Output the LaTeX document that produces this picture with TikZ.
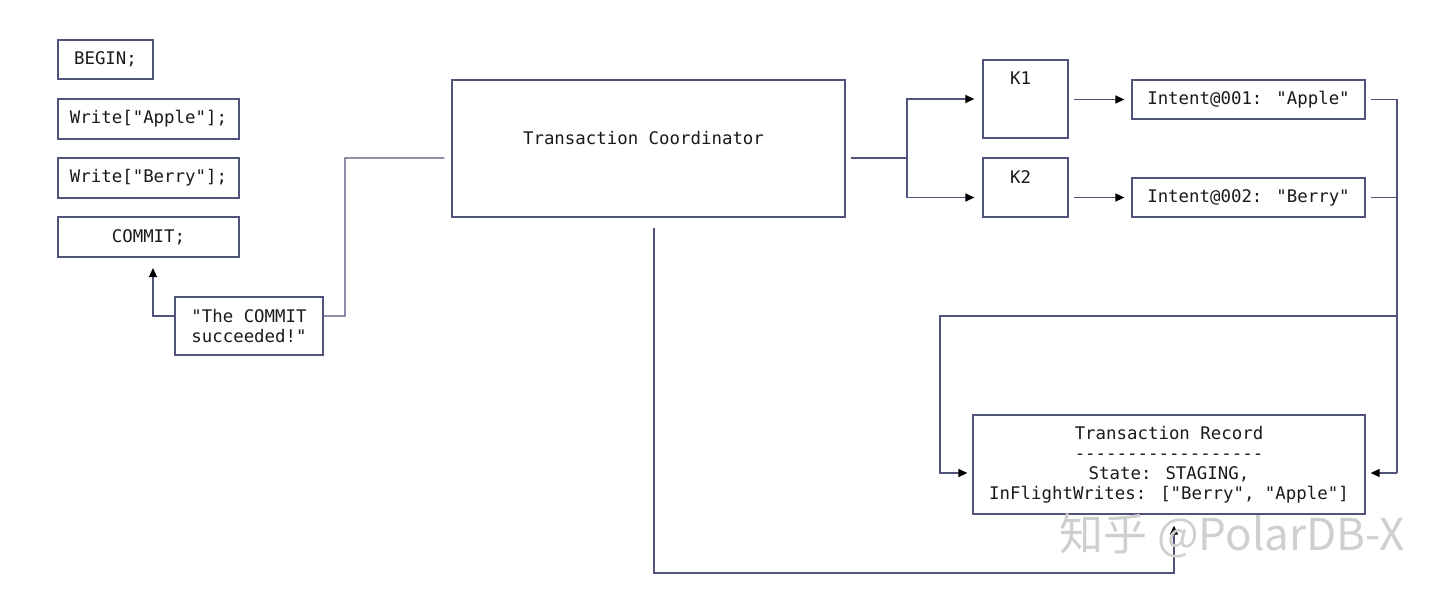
\documentclass[tikz,border=0pt]{standalone}
\usepackage{fontspec}
\usetikzlibrary{arrows.meta}
\newfontfamily\mono{DejaVu Sans Mono}
\newfontfamily\cjk{Noto Sans CJK SC}
\definecolor{ln}{HTML}{50547A}
\definecolor{tx}{HTML}{1A1A1A}
\begin{document}
\begin{tikzpicture}[x=0.02cm,y=-0.02cm,
  box/.style={draw=ln,line width=0.75pt,inner sep=0pt,font=\mono\fontsize{9.9}{11.3}\selectfont,text=tx,align=center},
  conn/.style={draw=ln,line width=0.75pt},
  arr/.style={conn,-{Triangle[length=1.8mm,width=1.6mm,color=black]}}]
\useasboundingbox (0,0) rectangle (1440,592);
\fill[white] (0,0) rectangle (1440,592);
% left statements
\node[box,minimum width=1.9cm,minimum height=0.78cm] (begin) at (105.5,59.5) {BEGIN;};
\node[box,minimum width=3.62cm,minimum height=0.8cm] (wa) at (148.5,119) {Write["Apple"];};
\node[box,minimum width=3.62cm,minimum height=0.8cm] (wb) at (148.5,178) {Write["Berry"];};
\node[box,minimum width=3.62cm,minimum height=0.8cm] (commit) at (148.5,237) {COMMIT;};
\node[box,minimum width=2.96cm,minimum height=1.16cm] (tc) at (249,326) {"The COMMIT\\succeeded!"};
% coordinator
\node[box,minimum width=7.86cm,minimum height=2.74cm,
  label={[anchor=center,yshift=0.2cm,xshift=-0.1cm,font=\mono\fontsize{9.9}{11.3}\selectfont,text=tx]center:Transaction Coordinator}] (coord) at (648.5,148.5) {};
% keys
\node[box,minimum width=1.7cm,minimum height=1.56cm,
  label={[anchor=center,yshift=-0.38cm,xshift=-0.1cm,font=\mono\fontsize{9.9}{11.3}\selectfont,text=tx]north:K1}] (k1) at (1025.5,99) {};
\node[box,minimum width=1.7cm,minimum height=1.18cm,
  label={[anchor=center,yshift=-0.4cm,xshift=-0.1cm,font=\mono\fontsize{9.9}{11.3}\selectfont,text=tx]north:K2}] (k2) at (1025.5,187.5) {};
% intents
\node[box,minimum width=4.66cm,minimum height=0.78cm] (i1) at (1248.5,99.5) {Intent@001: "Apple"};
\node[box,minimum width=4.66cm,minimum height=0.78cm] (i2) at (1248.5,197.5) {Intent@002: "Berry"};
% record
\node[box,minimum width=7.84cm,minimum height=1.98cm] (rec) at (1169,464.5)
  {Transaction Record\\-{}-{}-{}-{}-{}-{}-{}-{}-{}-{}-{}-{}-{}-{}-{}-{}-{}-\\State: STAGING,\\InFlightWrites: ["Berry", "Apple"]};
% helper coordinates
\coordinate (y158) at (0,158);
\coordinate (jA) at (345,316);
\coordinate (commitTip) at (153,268);
\coordinate (split) at (907,158);
\coordinate (bus1) at (1397,99.5);
\coordinate (bus2) at (1397,473);
\coordinate (busB) at (1397,316);
\coordinate (leftB) at (940,316);
\coordinate (y573) at (0,573);
% connectors
\draw[arr] ([yshift=0.2cm]tc.west) -| (commitTip);
\draw[conn,shorten >=0.14cm] ([yshift=0.2cm]tc.east) -- (jA) |- (coord.west |- y158);
\draw[conn,shorten <=0.1cm] (coord.east |- y158) -- (split);
\draw[arr,shorten >=0.16cm] (split) |- (k1.west);
\draw[arr,shorten >=0.16cm] (split) |- (i2.west -| k2.west);
\draw[arr,shorten <=0.1cm,shorten >=0.14cm] (k1.east |- i1.west) -- (i1.west);
\draw[arr,shorten <=0.1cm,shorten >=0.14cm] (k2.east |- i2.west) -- (i2.west);
\draw[conn,shorten <=0.1cm] (i1.east) -- (bus1) -- (bus2);
\draw[conn,shorten <=0.1cm] (i2.east) -- (i2.east -| bus1);
\draw[arr,shorten >=0.1cm] (bus2) -- (rec.east |- bus2);
\draw[arr,shorten >=0.1cm] (busB) -- (leftB) |- (rec.west |- bus2);
\draw[arr,shorten <=0.2cm,shorten >=0.22cm] ([xshift=0.11cm]coord.south) |- ([xshift=0.1cm]rec.south |- y573) -- ([xshift=0.1cm]rec.south);
% watermark
\node[text=gray!38,font=\cjk\fontsize{25}{28}\selectfont,inner sep=0pt] (wm) at (1232,536) {知乎 @PolarDB-X};
\end{tikzpicture}
\end{document}
